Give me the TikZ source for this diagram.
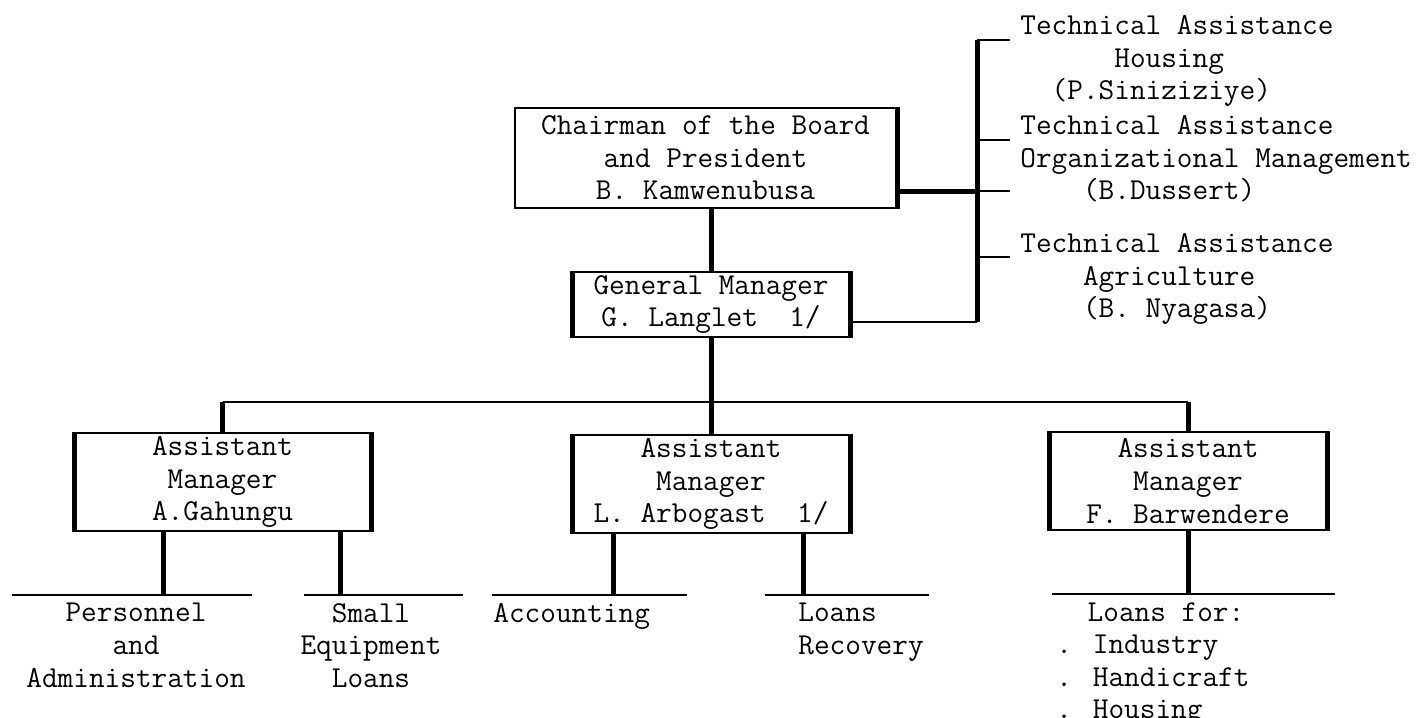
\documentclass[tikz,border=0pt]{standalone}
\usepackage{fontspec}
\usetikzlibrary{positioning, calc}

\newcommand\orgfont{\ttfamily\fontsize{15.2}{16.3}\selectfont}
\newcommand\skipcols[1]{\hspace*{#1\fontdimen2\font}}

\tikzset{
  thinline/.style={line width=1pt},
  thickline/.style={line width=2.5pt},
  post/.style={draw, line width=1pt, inner sep=0pt, font=\orgfont, align=center},
  unit/.style={inner sep=0pt, font=\orgfont}
}

\begin{document}
\begin{tikzpicture}[x=0.5pt, y=-0.5pt]
\useasboundingbox (0,0) rectangle (1427,717);

% boxes
\node (chair) [post, minimum width=190.5pt, minimum height=50pt] at (705.5,158) {Chairman of the Board\\and President\\B. Kamwenubusa};
\node (gm) [post, minimum width=138pt, minimum height=32.5pt] at (711,304.5) {General Manager\\G. Langlet\skipcols{2}1/};
\node (am1) [post, minimum width=147.5pt, minimum height=49pt] at (222.5,482) {Assistant\\Manager\\A.Gahungu};
\node (am2) [post, minimum width=138pt, minimum height=49pt] at (711,484) {Assistant\\Manager\\L. Arbogast\skipcols{2}1/};
\node (am3) [post, minimum width=138pt, minimum height=49pt] at (1188,481) {Assistant\\Manager\\F. Barwendere};

\draw[thickline] (chair.north east) -- (chair.south east);
\foreach \b in {gm,am1,am2,am3}
  \draw[thickline] (\b.north west) -- (\b.south west) (\b.north east) -- (\b.south east);

% technical assistance
\node (tahous) [unit, anchor=north west, align=left] at (1020,15) {Technical Assistance\\\skipcols{6}Housing\\\skipcols{2}(P.Siniziziye)};
\node (taorg) [unit, anchor=north west, align=left] at (1020,115) {Technical Assistance\\Organizational Management\\\skipcols{4}(B.Dussert)};
\node (taagr) [unit, anchor=north west, align=left] at (1020,233) {Technical Assistance\\\skipcols{4}Agriculture\\\skipcols{4}(B. Nyagasa)};

\coordinate (ttop) at (977,40);
\coordinate (tchair) at (977,191);
\coordinate (tbot) at (977,322);
\draw[thickline] (ttop) -- (tbot);
\draw[thickline] (chair.east |- tchair) -- (tchair);
\draw[thinline] (gm.east |- tbot) -- (tbot);
\foreach \y in {40,140,191,257}
  \draw[thinline] (977,\y) -- ++(33,0);

% main line
\coordinate (hub) at (711,402);
\draw[thickline] (chair.south -| gm.north) -- (gm.north);
\draw[thickline] (gm.south) -- (am2.north);
\draw[thinline] (am1.north |- hub) -- (am3.north |- hub);
\draw[thickline] (am1.north |- hub) -- (am1.north);
\draw[thickline] (am3.north |- hub) -- (am3.north);

% sections
\coordinate (s1) at (163,595);
\coordinate (s2) at (340,595);
\coordinate (s3) at (613,595);
\coordinate (s4) at (803,595);
\coordinate (s5) at (1188,594);
\draw[thickline] (am1.south -| s1) -- (s1);
\draw[thickline] (am1.south -| s2) -- (s2);
\draw[thickline] (am2.south -| s3) -- (s3);
\draw[thickline] (am2.south -| s4) -- (s4);
\draw[thickline] (am3.south -| s5) -- (s5);
\foreach \s/\l/\r in {s1/151/89, s2/36/123, s3/121/74, s4/38/126, s5/136/147}
  \draw[thinline] ($(\s)+(-\l,0)$) -- ($(\s)+(\r,0)$);

\node (pers) [unit, anchor=north, align=center] at (136,603) {Personnel\\and\\Administration};
\node (smeq) [unit, anchor=north, align=center] at (371,603) {Small\\Equipment\\Loans};
\node (acct) [unit, anchor=north west] at (493,603) {Accounting};
\node (lrec) [unit, anchor=north west, align=left] at (798,603) {Loans\\Recovery};
\node (lfor) [unit, anchor=north west, align=left] at (1056,602) {\skipcols{2}Loans for:\\. Industry\\. Handicraft\\. Housing};
\end{tikzpicture}
\end{document}
